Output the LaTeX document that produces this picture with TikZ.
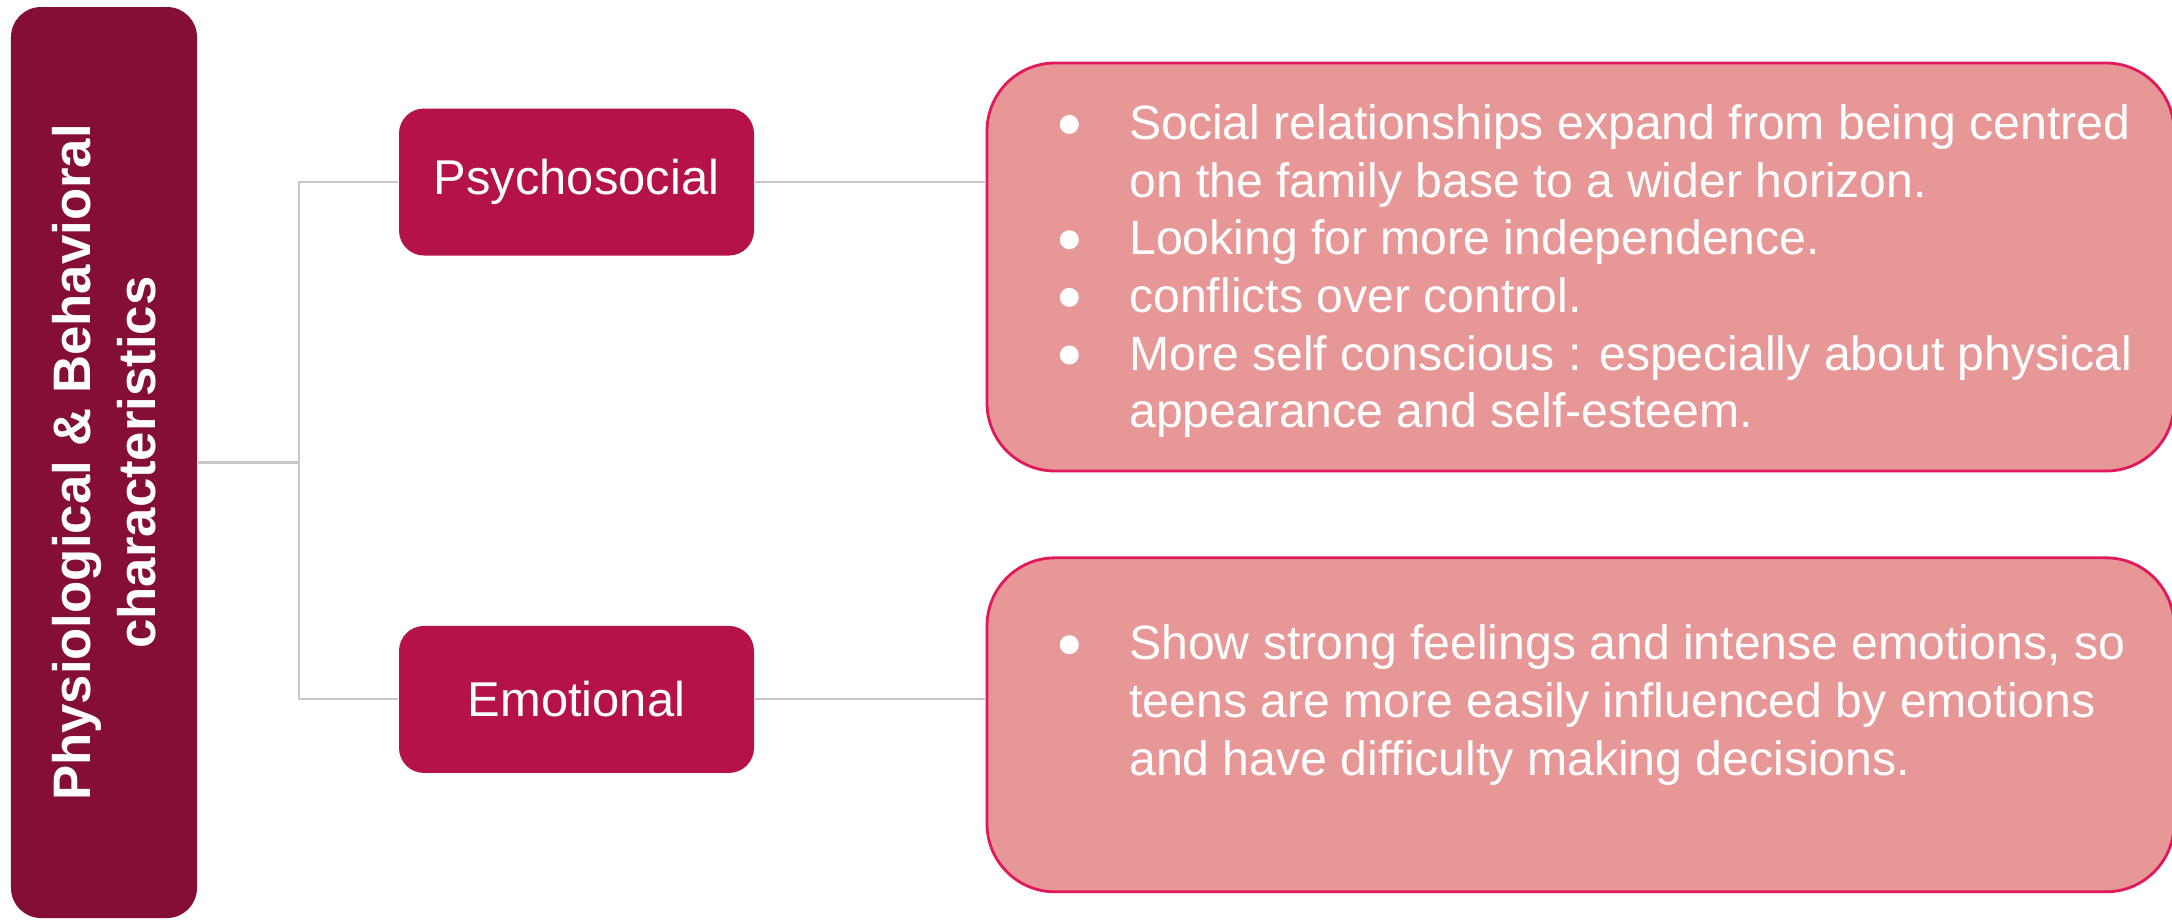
\documentclass[tikz,border=0pt]{standalone}
\usepackage{fontspec}
\setmainfont{Liberation Sans}
\usetikzlibrary{positioning}

\definecolor{wine}{RGB}{133,14,53}
\definecolor{crimson}{RGB}{181,19,72}
\definecolor{blush}{RGB}{232,151,151}
\definecolor{blushline}{RGB}{225,25,90}
\definecolor{linkgray}{RGB}{200,200,200}

% round list marker
\newcommand{\bulletdot}{\tikz[baseline=-0.15cm]\fill[white] (0,0) circle (0.095cm);}

\begin{document}
\begin{tikzpicture}[
  font=\fontsize{13.7}{16.4}\selectfont,
  rootbox/.style={fill=wine, rounded corners=0.3cm, inner sep=0pt, minimum width=1.86cm, minimum height=9.11cm},
  topic/.style={fill=crimson, rounded corners=0.25cm, text=white, inner sep=0pt, minimum width=3.55cm, minimum height=1.47cm, font=\fontsize{13.9}{16}\selectfont},
  note/.style={draw=blushline, line width=0.8pt, fill=blush, rounded corners=0.68cm, inner sep=0pt, minimum width=11.87cm},
  notetext/.style={text=white, inner sep=0pt, anchor=west},
  link/.style={draw=linkgray, line width=0.6pt}
]
\useasboundingbox (0,0) rectangle (21.72,-9.2);

\node[rootbox] (root) at (1.04,-4.625) {};
\node[text=white, rotate=90, align=center, font=\fontsize{15}{18.5}\selectfont\bfseries] (rootlbl) at (root.center)
  {Physiological \& Behavioral\\characteristics};

\node[topic] (psy) at (5.765,-1.82) {Psychosocial};
\node[topic, below=3.69cm of psy] (emo) {Emotional};

\node[note, minimum height=4.08cm] (det1) at (15.805,-2.67) {};
\node[note, minimum height=3.34cm, below=0.84cm of det1] (det2) {};

\node[notetext] (t1) at ([xshift=0.735cm, yshift=-0.05cm]det1.west) {%
  \begin{tabular}{@{}l@{\hspace{0.505cm}}l@{}}
  \bulletdot & Social relationships expand from being centred\\
             & on the family base to a wider horizon.\\
  \bulletdot & Looking for more independence.\\
  \bulletdot & conflicts over control.\\
  \bulletdot & More self conscious : especially about physical\\
             & appearance and self-esteem.
  \end{tabular}};
\node[notetext] (t2) at ([xshift=0.735cm, yshift=0.19cm]det2.west) {%
  \begin{tabular}{@{}l@{\hspace{0.505cm}}l@{}}
  \bulletdot & Show strong feelings and intense emotions, so\\
             & teens are more easily influenced by emotions\\
             & and have difficulty making decisions.
  \end{tabular}};

% tree lines
\coordinate (fork) at ([xshift=1.01cm]root.east);
\draw[link] (root.east) -- (fork);
\draw[link] (psy.west) -| (fork) |- (emo.west);
\draw[link] (psy.east) -- (psy.east -| det1.west);
\draw[link] (emo.east) -- (emo.east -| det2.west);
\end{tikzpicture}
\end{document}
